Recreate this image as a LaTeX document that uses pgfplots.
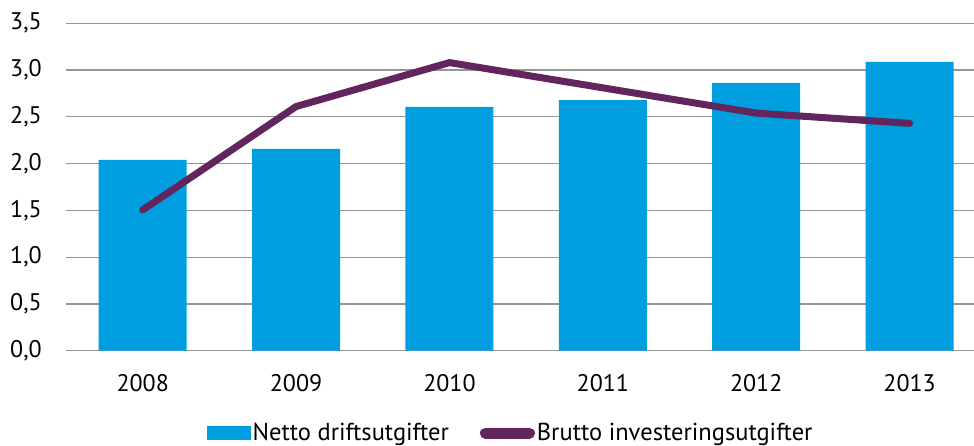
\documentclass[border=0pt]{standalone}
\usepackage{pgfplots}
\pgfplotsset{compat=1.18}
\usepackage{fontspec}
\setmainfont{PT Sans}
\definecolor{barblue}{RGB}{0,158,222}
\definecolor{linepurple}{RGB}{98,37,94}
\definecolor{gridgray}{RGB}{150,150,150}
\begin{document}
\begin{tikzpicture}[x=1pt,y=1pt]
\begin{axis}[
  scale only axis,
  width=908pt, height=327.4pt,
  xmin=-0.5, xmax=5.42, ymin=0, ymax=3.5,
  axis line style={draw=none},
  tick style={draw=none},
  ymajorgrids,
  grid style={gridgray, line width=1.3pt},
  ytick={0,0.5,1,1.5,2,2.5,3,3.5},
  xtick={0,1,2,3,4,5},
  xticklabels={2008,2009,2010,2011,2012,2013},
  /pgf/number format/.cd, fixed, fixed zerofill, precision=1, use comma, assume math mode=true,
  /pgfplots/.cd,
  ticklabel style={font=\fontsize{24}{28}\selectfont, inner sep=0pt},
  yticklabel style={anchor=east, xshift=-24pt},
  xticklabel style={anchor=base, yshift=-41pt},
  clip=false,
  legend columns=2,
  legend style={draw=none, fill=none, font=\fontsize{24.5}{28}\selectfont,
    at={(axis description cs:0.1514,-0.2515)}, anchor=west,
    /tikz/every even column/.append style={column sep=29pt},
    nodes={inner sep=2pt, anchor=west}},
]
\addplot[ybar, bar width=0.574, fill=barblue, draw=none,
  legend image code/.code={\fill[barblue] (0pt,-7pt) rectangle (44pt,7pt);}]
  coordinates {(0,2.04) (1,2.157) (2,2.606) (3,2.68) (4,2.863) (5,3.088)};
\addlegendentry{Netto driftsutgifter}
\addplot[linepurple, line width=7pt, line join=round, line cap=round, mark=none,
  legend image code/.code={\draw[linepurple, line width=11pt, line cap=round] (5.5pt,0pt) -- (49.5pt,0pt);}]
  coordinates {(0,1.505) (1,2.61) (2,3.08) (3,2.81) (4,2.54) (5,2.43)};
\addlegendentry{Brutto investeringsutgifter}
\end{axis}
\pgfresetboundingbox
\path[use as bounding box] (-66,-95.3) rectangle (908,350.7);
\end{tikzpicture}
\end{document}
